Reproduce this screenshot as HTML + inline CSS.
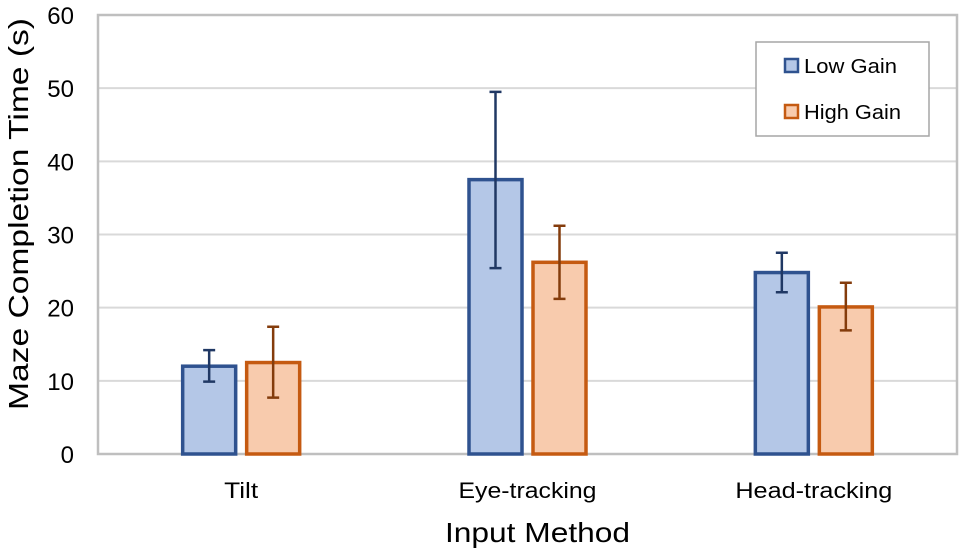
<!DOCTYPE html>
<html><head><meta charset="utf-8"><style>
body{margin:0;background:#fff;}
text{font-family:"Liberation Sans",sans-serif;fill:#000;}
</style></head><body>
<svg id="chart" width="963" height="551" xmlns="http://www.w3.org/2000/svg">
<g id="grid"></g><g id="bars"></g><g id="axes"></g>
<text x="445" y="542" font-size="28" textLength="185" lengthAdjust="spacingAndGlyphs">Input Method</text>
<text transform="translate(28,410) rotate(-90)" font-size="28" textLength="392" lengthAdjust="spacingAndGlyphs">Maze Completion Time (s)</text>
<g>
<rect x="756" y="42" width="173" height="94" fill="#fff" stroke="#a6a6a6" stroke-width="1.5"/>
<rect x="785" y="59" width="13" height="13" fill="#b4c7e7" stroke="#2f528f" stroke-width="2.5"/>
<text x="804" y="73" font-size="20" textLength="93" lengthAdjust="spacingAndGlyphs">Low Gain</text>
<rect x="785" y="105" width="13" height="13" fill="#f8cbad" stroke="#c55a11" stroke-width="2.5"/>
<text x="804" y="119" font-size="20" textLength="97" lengthAdjust="spacingAndGlyphs">High Gain</text>
</g>
</svg>
<script>
const categories=["Tilt","Eye-tracking","Head-tracking"];
const lowGain=[12.0,37.5,24.8];
const lowErrLo=[9.9,25.4,22.1];
const lowErrHi=[14.2,49.5,27.5];
const highGain=[12.5,26.2,20.1];
const highErrLo=[7.7,21.2,16.9];
const highErrHi=[17.4,31.2,23.4];
const yTicks=[0,10,20,30,40,50,60];
const NS="http://www.w3.org/2000/svg";
const L=98,R=957,T=15,B=454,YMAX=60;
const y=v=>B-(v/YMAX)*(B-T);
const cw=(R-L)/categories.length;
const xc=i=>L+cw*(i+0.5);
function mk(tag,attrs,parent){const e=document.createElementNS(NS,tag);for(const k in attrs)e.setAttribute(k,attrs[k]);document.getElementById(parent).appendChild(e);return e;}
yTicks.forEach(t=>{
 const g=mk('line',{x1:L,x2:R,y1:y(t),y2:y(t),stroke:'#d9d9d9','stroke-width':2},'grid');
 
 
 const tx=mk('text',{x:74,y:y(t)+9,'font-size':24,'text-anchor':'end'},'axes');
 tx.textContent=t;
 
 
});
const fr=mk('rect',{x:L,y:T,width:R-L,height:B-T,fill:'none',stroke:'#bfbfbf','stroke-width':2.5},'grid');


const bw=53;
function series(vals,lo,hi,off,fill,stroke,err,name){
 vals.forEach((v,i)=>{
  const cx=xc(i)+off;
  const r=mk('rect',{x:cx-bw/2,y:y(v),width:bw,height:B-y(v),fill:fill,stroke:stroke,'stroke-width':3.5},'bars');
  
  
  const eb=mk('path',{d:`M${cx},${y(lo[i])}V${y(hi[i])}M${cx-6},${y(lo[i])}H${cx+6}M${cx-6},${y(hi[i])}H${cx+6}`,stroke:err,'stroke-width':2.5,fill:'none'},'bars');
  
  
 });
}
series(lowGain,lowErrLo,lowErrHi,-32,'#b4c7e7','#2f528f','#203864','low');
series(highGain,highErrLo,highErrHi,32,'#f8cbad','#c55a11','#843c0c','high');
const catLens=[34,138,157];
categories.forEach((c,i)=>{
 const t=mk('text',{x:xc(i),y:498,'font-size':22,'text-anchor':'middle',textLength:catLens[i],lengthAdjust:'spacingAndGlyphs'},'axes');
 t.textContent=c;
 
 
});
</script>
</body></html>
